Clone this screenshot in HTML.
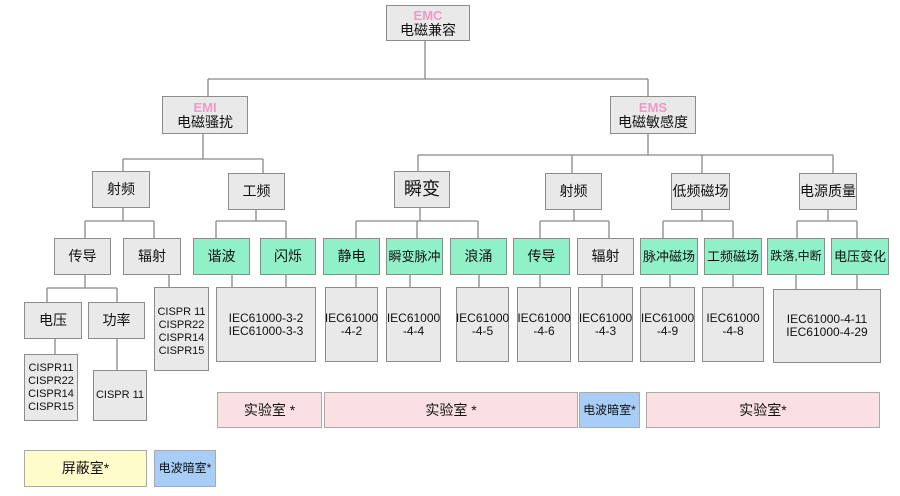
<!DOCTYPE html>
<html><head><meta charset="utf-8"><style>
body{margin:0;width:900px;height:496px;background:#fff;position:relative;overflow:hidden;font-family:"Liberation Sans","Noto Sans CJK SC",sans-serif}
.b{position:absolute;box-sizing:border-box;border:1.5px solid #8c8c8c;background:#e9e9e9;display:flex;align-items:center;justify-content:center;text-align:center;color:#111;font-size:14px;line-height:15px}
.g{background:#90f0c8}
.p{background:#fbe0e3}
.bl{background:#a8cdf6}
.y{background:#fffccc}
.s{font-size:11px;line-height:13px}
.e{color:#ee9ac5;font-weight:bold;font-size:13px}
svg{position:absolute;left:0;top:0}
</style></head><body>
<svg width="900" height="496"><g stroke="#888" stroke-width="1.3" fill="none">
<path d="M425 41V79M208 79H648M208 79V96M648 79V96"/>
<path d="M203 134V159M123 159H263M123 159V171M263 159V173"/>
<path d="M648 134V155M418 155H833M418 155V171M572 155V173M702 155V173M833 155V173"/>
<path d="M123 208V221M85 221H154M85 221V238M154 221V238"/>
<path d="M256 210V221M216 221H286M216 221V238M286 221V238"/>
<path d="M420 208V221M356 221H478M356 221V238M417 221V238M478 221V238"/>
<path d="M574 210V221M540 221H609M540 221V238M609 221V238"/>
<path d="M702 210V221M663 221H733M663 221V238M733 221V238"/>
<path d="M828 210V221M797 221H857M797 221V238M857 221V238"/>
<path d="M85 275V288M47 288H117M47 288V302M117 288V302M55 339V354M117 339V370"/>
<path d="M169 275V287M232 275V287M286 275V287M356 275V287M410 275V287M479 275V287M540 275V287M602 275V287M670 275V287M733 275V287M796 275V289M857 275V289"/>
</g></svg>
<div class="b" style="left:386px;top:5px;width:84px;height:36px;flex-direction:column"><span class="e">EMC</span><span>电磁兼容</span></div>
<div class="b" style="left:162px;top:96px;width:86px;height:38px;flex-direction:column"><span class="e">EMI</span><span>电磁骚扰</span></div>
<div class="b" style="left:610px;top:96px;width:86px;height:38px;flex-direction:column"><span class="e">EMS</span><span>电磁敏感度</span></div>
<div class="b" style="left:92px;top:171px;width:58px;height:37px">射频</div>
<div class="b" style="left:228px;top:173px;width:57px;height:37px">工频</div>
<div class="b" style="left:394px;top:171px;width:56px;height:37px;font-size:18px">瞬变</div>
<div class="b" style="left:545px;top:173px;width:57px;height:37px">射频</div>
<div class="b" style="left:671px;top:173px;width:59px;height:37px">低频磁场</div>
<div class="b" style="left:799px;top:173px;width:58px;height:37px">电源质量</div>
<div class="b" style="left:54px;top:238px;width:57px;height:37px">传导</div>
<div class="b" style="left:123px;top:238px;width:58px;height:37px">辐射</div>
<div class="b g" style="left:193px;top:238px;width:57px;height:37px">谐波</div>
<div class="b g" style="left:260px;top:238px;width:56px;height:37px">闪烁</div>
<div class="b g" style="left:323px;top:238px;width:57px;height:37px">静电</div>
<div class="b g" style="left:386px;top:238px;width:57px;height:37px;font-size:13px">瞬变脉冲</div>
<div class="b g" style="left:450px;top:238px;width:57px;height:37px">浪涌</div>
<div class="b g" style="left:513px;top:238px;width:57px;height:37px">传导</div>
<div class="b" style="left:577px;top:238px;width:57px;height:37px">辐射</div>
<div class="b g" style="left:640px;top:238px;width:58px;height:37px;font-size:13px">脉冲磁场</div>
<div class="b g" style="left:704px;top:238px;width:58px;height:37px;font-size:13px">工频磁场</div>
<div class="b g" style="left:767px;top:238px;width:58px;height:37px;font-size:12px">跌落,中断</div>
<div class="b g" style="left:831px;top:238px;width:58px;height:37px;font-size:13px">电压变化</div>
<div class="b" style="left:24px;top:302px;width:58px;height:37px">电压</div>
<div class="b" style="left:88px;top:302px;width:57px;height:37px">功率</div>
<div class="b s" style="left:24px;top:354px;width:54px;height:67px">CISPR11<br>CISPR22<br>CISPR14<br>CISPR15</div>
<div class="b s" style="left:93px;top:370px;width:54px;height:51px">CISPR 11</div>
<div class="b s" style="left:154px;top:287px;width:55px;height:84px;align-items:flex-start;padding-top:18px">CISPR 11<br>CISPR22<br>CISPR14<br>CISPR15</div>
<div class="b s" style="left:216px;top:287px;width:100px;height:75px;font-size:12px">IEC61000-3-2<br>IEC61000-3-3</div>
<div class="b s" style="left:325px;top:287px;width:53px;height:75px;font-size:12px">IEC61000<br>-4-2</div>
<div class="b s" style="left:386px;top:287px;width:55px;height:75px;font-size:12px">IEC61000<br>-4-4</div>
<div class="b s" style="left:456px;top:287px;width:53px;height:75px;font-size:12px">IEC61000<br>-4-5</div>
<div class="b s" style="left:517px;top:287px;width:54px;height:75px;font-size:12px">IEC61000<br>-4-6</div>
<div class="b s" style="left:578px;top:287px;width:55px;height:75px;font-size:12px">IEC61000<br>-4-3</div>
<div class="b s" style="left:640px;top:287px;width:55px;height:75px;font-size:12px">IEC61000<br>-4-9</div>
<div class="b s" style="left:702px;top:287px;width:62px;height:75px;font-size:12px">IEC61000<br>-4-8</div>
<div class="b s" style="left:773px;top:289px;width:108px;height:74px;font-size:12px">IEC61000-4-11<br>IEC61000-4-29</div>
<div class="b p" style="left:217px;top:392px;width:105px;height:36px;border-color:#aaa">实验室 *</div>
<div class="b p" style="left:324px;top:392px;width:254px;height:36px;border-color:#aaa">实验室 *</div>
<div class="b bl" style="left:579px;top:392px;width:61px;height:36px;font-size:12px;border-color:#aaa">电波暗室*</div>
<div class="b p" style="left:646px;top:392px;width:234px;height:36px;border-color:#aaa">实验室*</div>
<div class="b y" style="left:24px;top:450px;width:123px;height:37px;border-color:#aaa">屏蔽室*</div>
<div class="b bl" style="left:154px;top:450px;width:62px;height:37px;font-size:12px;border-color:#aaa">电波暗室*</div>
</body></html>
